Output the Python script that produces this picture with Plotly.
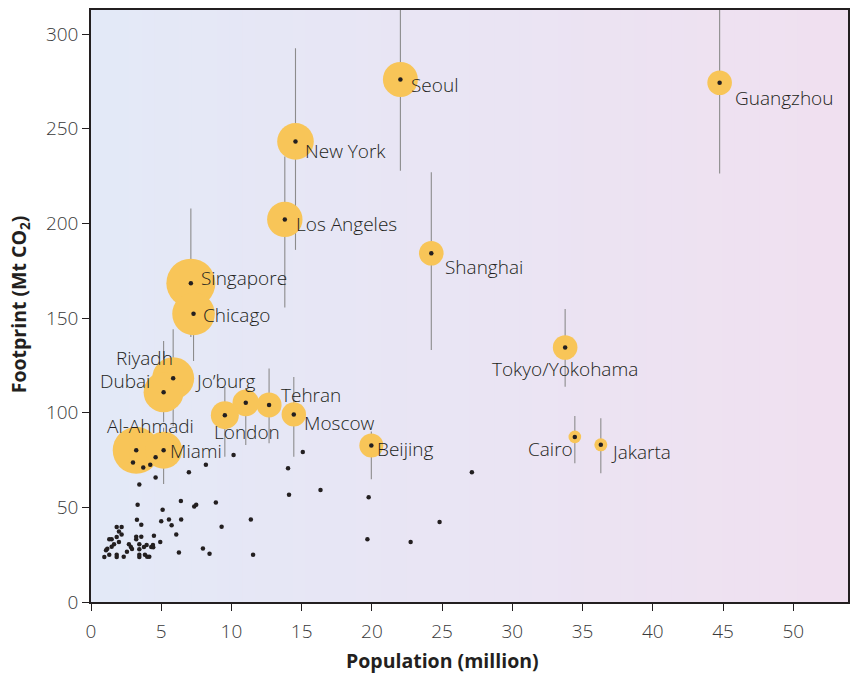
import plotly.graph_objects as go

# ---- Labelled cities (population in million, footprint in Mt CO2) ----
cities = ["Seoul", "Guangzhou", "New York", "Los Angeles", "Shanghai", "Singapore",
          "Chicago", "Riyadh", "Dubai", "Jo\u2019burg", "London", "Tehran", "Moscow",
          "Al-Ahmadi", "Miami", "Beijing", "Tokyo/Yokohama", "Cairo", "Jakarta"]
city_pop = [22.03, 44.76, 14.56, 13.80, 24.23, 7.11, 7.30, 5.85, 5.17, 11.02, 9.53,
            12.68, 14.44, 3.22, 5.17, 19.96, 33.76, 34.45, 36.30]
city_fp = [276.0, 274.3, 243.3, 202.1, 184.2, 168.4, 152.2, 118.2, 110.8, 105.2, 98.7,
           104.1, 99.1, 80.1, 80.2, 82.7, 134.4, 87.2, 83.0]
city_fp_low = [227.8, 226.4, 186.0, 155.5, 133.1, 140.0, 127.3, 93.0, 95.0, 82.9, 76.7,
               83.8, 76.7, 72.0, 62.3, 64.9, 113.7, 73.3, 68.0]
city_fp_high = [330.0, 330.0, 292.5, 235.3, 227.0, 207.8, 165.0, 144.1, 137.9, 113.0, 113.6,
                123.3, 118.9, 90.0, 92.0, 90.0, 154.8, 98.3, 97.0]
# relative bubble magnitude (circle diameter)
city_bubble = [35, 24.6, 36.6, 35.4, 24.6, 49, 42.6, 42, 40, 26.6, 28, 25, 24.4,
               47, 37, 24, 24.6, 12.6, 13]

# ---- Other cities (unlabelled dots) ----
other_pop = [2.99, 3.72, 4.22, 4.60, 4.60, 3.44, 6.97, 8.18, 10.15, 14.03, 14.10, 3.32,
             6.40, 5.10, 7.35, 7.49, 8.89, 3.27, 3.58, 5.00, 5.55, 5.74, 6.42, 9.30,
             11.38, 6.07, 1.83, 2.18, 1.99, 2.18, 1.83, 1.30, 1.47, 1.99, 1.64, 1.47,
             1.16, 1.07, 0.95, 1.30, 1.83, 1.83, 2.33, 2.56, 2.70, 2.84, 2.92, 3.22,
             3.22, 3.58, 3.44, 3.44, 3.44, 3.44, 3.77, 3.96, 4.29, 4.41, 4.43, 3.84,
             4.00, 4.15, 4.48, 4.93, 6.26, 7.97, 8.44, 11.54, 15.08, 16.34, 19.77,
             27.12, 24.82, 19.68, 22.76]
other_fp = [73.7, 71.1, 72.5, 76.4, 65.8, 62.1, 68.6, 72.5, 77.7, 70.6, 56.6, 51.4,
            53.3, 48.7, 50.5, 51.4, 52.6, 43.4, 40.8, 42.6, 43.6, 40.6, 43.6, 39.7,
            43.6, 35.7, 39.6, 39.6, 37.3, 35.7, 34.3, 33.1, 33.1, 31.7, 30.5, 29.2,
            28.1, 27.4, 23.8, 25.0, 25.0, 23.8, 23.9, 26.5, 30.5, 29.0, 28.0, 34.5,
            33.1, 34.5, 30.5, 27.8, 25.0, 23.8, 29.0, 30.1, 29.0, 30.1, 28.9, 25.0,
            23.9, 23.9, 35.0, 31.7, 26.2, 28.3, 25.5, 25.0, 79.2, 59.1, 55.3,
            68.6, 42.2, 33.1, 31.7]

x_ticks = [0, 5, 10, 15, 20, 25, 30, 35, 40, 45, 50]
y_ticks = [0, 50, 100, 150, 200, 250, 300]

# ---- label placement (layout only) ----
label_place = {
    "Seoul": ("left", 9, -6), "Guangzhou": ("left", 13, -15), "New York": ("left", 8, -10),
    "Los Angeles": ("left", 9, -5), "Shanghai": ("left", 12, -14), "Singapore": ("left", 8, 5),
    "Chicago": ("left", 7, -1), "Riyadh": ("right", 2, 20), "Dubai": ("right", -12, 11),
    "Jo\u2019burg": ("left", -53, 22), "London": ("left", -13, -17), "Tehran": ("left", 10, 10),
    "Moscow": ("left", 8, -9), "Al-Ahmadi": ("center", 14, 24), "Miami": ("left", 4, -1),
    "Beijing": ("left", 4, -4), "Tokyo/Yokohama": ("center", 0, -21), "Cairo": ("right", 0, -12),
    "Jakarta": ("left", 8, -7),
}

INK = "#231f20"
YELLOW = "#F8C558"
FONT = "Open Sans"

fig = go.Figure()

# error bars
fig.add_trace(go.Scatter(
    x=city_pop, y=city_fp, mode="markers",
    marker=dict(size=1, opacity=0),
    error_y=dict(type="data", symmetric=False,
                 array=[h - v for h, v in zip(city_fp_high, city_fp)],
                 arrayminus=[v - l for v, l in zip(city_fp, city_fp_low)],
                 width=0, thickness=1.1, color="#8c8c8c"),
    hoverinfo="skip", showlegend=False))

# bubbles
fig.add_trace(go.Scatter(
    x=city_pop, y=city_fp, mode="markers",
    marker=dict(size=city_bubble, color=YELLOW, line=dict(width=0), opacity=1),
    hoverinfo="skip", showlegend=False))

# other cities dots
fig.add_trace(go.Scatter(
    x=other_pop, y=other_fp, mode="markers",
    marker=dict(size=4.5, color=INK, line=dict(width=0)),
    showlegend=False))

# city centre dots
fig.add_trace(go.Scatter(
    x=city_pop, y=city_fp, mode="markers",
    marker=dict(size=4.5, color=INK, line=dict(width=0)),
    text=cities, showlegend=False))

# labels
for name, px, fy in zip(cities, city_pop, city_fp):
    anchor, dx, dy = label_place[name]
    fig.add_annotation(x=px, y=fy, text=name, showarrow=False,
                       xanchor=anchor, yanchor="middle", xshift=dx, yshift=dy,
                       font=dict(family=FONT, size=19, color=INK, weight=300))

# gradient background (vertical strips)
n = 60
c0 = (227, 233, 247)
c1 = (240, 224, 240)
shapes = []
for i in range(n):
    t = i / (n - 1)
    col = tuple(round(a + (b - a) * t) for a, b in zip(c0, c1))
    shapes.append(dict(type="rect", xref="paper", yref="paper",
                       x0=i / n, x1=(i + 1) / n + 0.002, y0=0, y1=1,
                       fillcolor="rgb(%d,%d,%d)" % col, line=dict(width=0),
                       layer="below"))

# axis titles
fig.add_annotation(xref="paper", yref="paper", x=(443 - 91) / (848.5 - 91), y=-59 / 592.5,
                   text="<b>Population (million)</b>", showarrow=False,
                   xanchor="center", yanchor="middle",
                   font=dict(family=FONT, size=19.5, color=INK))
fig.add_annotation(xref="paper", yref="paper", x=-72 / (848.5 - 91), y=(602 - 304) / 592.5,
                   text="<b>Footprint (Mt CO<sub>2</sub>)</b>", showarrow=False, textangle=-90,
                   xanchor="center", yanchor="middle",
                   font=dict(family=FONT, size=19.5, color=INK))

axis_common = dict(showgrid=False, zeroline=False, showline=True, linecolor=INK,
                   linewidth=1.5, mirror=True, ticks="outside", ticklen=7,
                   tickwidth=1.3, tickcolor=INK,
                   tickfont=dict(family=FONT, size=19, color="#3a3a3a", weight=300))

fig.update_layout(
    width=855, height=678,
    margin=dict(l=91, r=6.5, t=9.5, b=76),
    paper_bgcolor="white", plot_bgcolor="rgba(0,0,0,0)",
    shapes=shapes,
    xaxis=dict(range=[0, 53.9], tickvals=x_ticks, ticktext=[str(v) for v in x_ticks],
               ticklabelstandoff=4, **axis_common),
    yaxis=dict(range=[0, 312.7], tickvals=y_ticks, ticktext=[str(v) for v in y_ticks],
               ticklabelstandoff=0, **axis_common),
    showlegend=False,
)

fig.write_html("out.html")
